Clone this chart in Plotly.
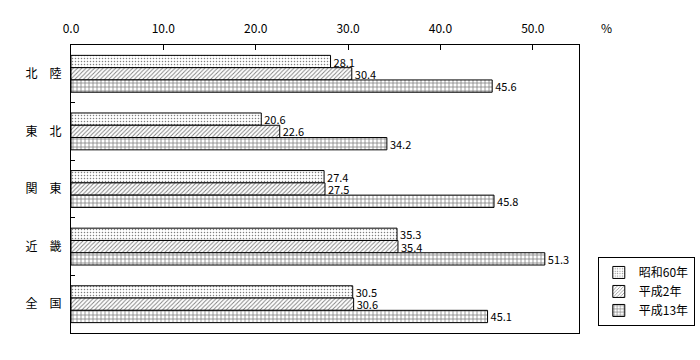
import plotly.graph_objects as go

categories = ["北\u3000陸", "東\u3000北", "関\u3000東", "近\u3000畿", "全\u3000国"]
series_names = ["昭和60年", "平成2年", "平成13年"]
s60 = [28.1, 20.6, 27.4, 35.3, 30.5]
h2 = [30.4, 22.6, 27.5, 35.4, 30.6]
h13 = [45.6, 34.2, 45.8, 51.3, 45.1]
tick_vals = [0, 10, 20, 30, 40, 50]
tick_text = ["0.0", "10.0", "20.0", "30.0", "40.0", "50.0"]

FONT = "Noto Sans CJK JP"
patterns = [dict(shape=".", size=3, solidity=0.2),
            dict(shape="/", size=3, solidity=0.3),
            dict(shape="+", size=4, solidity=0.35)]

fig = go.Figure()
for name, vals, pat in zip(series_names, [s60, h2, h13], patterns):
    fig.add_trace(go.Bar(
        y=categories, x=vals, name=name, orientation="h",
        text=[f"{v:.1f}" for v in vals], textposition="outside",
        constraintext="none",
        textfont=dict(size=11, color="black", family=FONT),
        cliponaxis=False,
        marker=dict(color="white", line=dict(color="black", width=1),
                    pattern=dict(fgcolor="black", bgcolor="white", **pat)),
    ))

fig.update_layout(
    width=700, height=360,
    margin=dict(l=71, r=121, t=45, b=27, autoexpand=False),
    paper_bgcolor="white", plot_bgcolor="white",
    barmode="group", bargap=0.36, bargroupgap=0,
    font=dict(family=FONT, size=12, color="black"),
    xaxis=dict(side="top", range=[0, 55], tickvals=tick_vals, ticktext=tick_text,
               ticks="inside", ticklen=5, tickcolor="black", automargin=False,
               showline=True, linecolor="black", linewidth=1, mirror=True,
               showgrid=False, zeroline=False, ticklabelstandoff=6),
    yaxis=dict(autorange="reversed", tickson="boundaries", ticks="inside",
               ticklen=4, tickcolor="black", showline=True, linecolor="black",
               automargin=False,
               linewidth=1, mirror=True, showgrid=False, ticklabelstandoff=6),
    legend=dict(x=1.037, y=0.264, xanchor="left", yanchor="top",
                bordercolor="black", borderwidth=1, bgcolor="white",
                font=dict(size=12, family=FONT), traceorder="normal",
                tracegroupgap=2, itemwidth=30),
    annotations=[dict(text="%", xref="paper", yref="paper", x=1.055, y=1.0625,
                      showarrow=False, xanchor="center", yanchor="middle",
                      font=dict(size=12, family=FONT))],
)

fig.write_html("out.html", config={"displayModeBar": False},
               post_script="document.body.style.margin='0';")
